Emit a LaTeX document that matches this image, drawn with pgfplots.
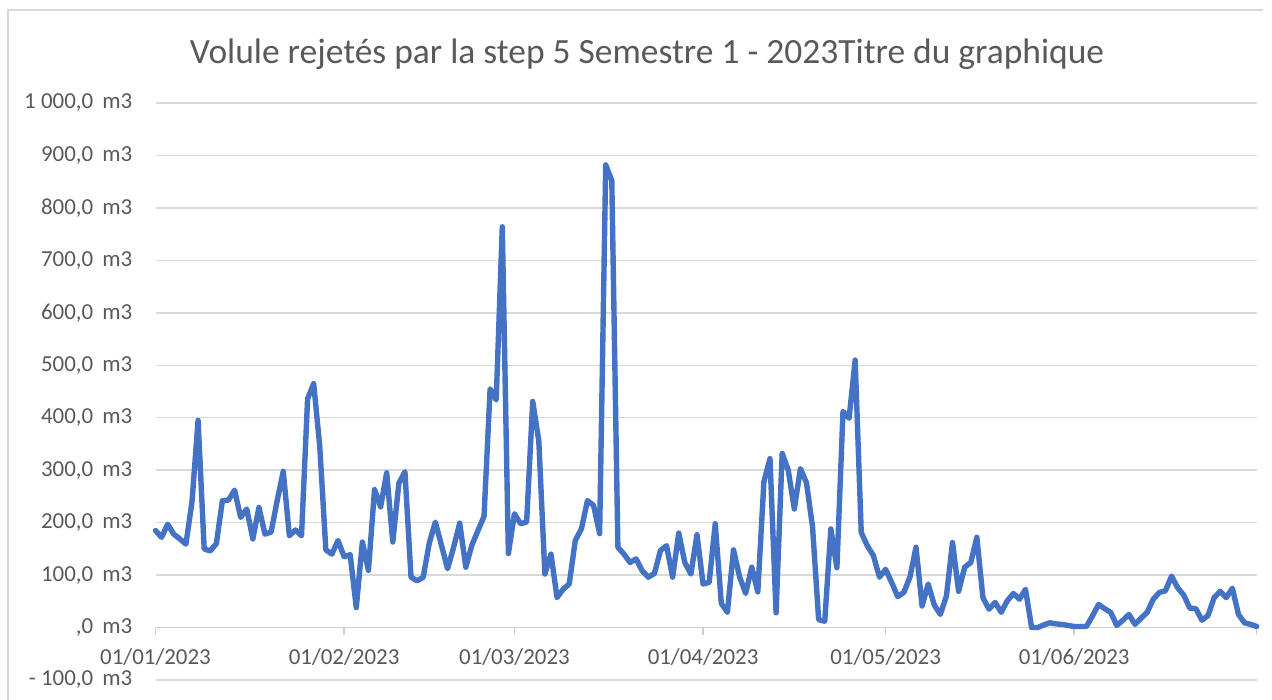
\documentclass[border=0pt]{standalone}
\usepackage{fontspec}
\setmainfont{Carlito}
\usepackage{pgfplots}
\pgfplotsset{compat=1.18}
\definecolor{lineblue}{HTML}{4472C4}
\definecolor{gridgray}{HTML}{D9D9D9}
\definecolor{txtgray}{HTML}{595959}
\definecolor{axgray}{HTML}{CFCFCF}
\begin{document}
\begin{tikzpicture}
\useasboundingbox (0,0) rectangle (636bp,350bp);
\draw[gridgray, line width=0.7bp] (4bp,0) -- (4bp,345bp) -- (631.5bp,345bp);
\node[anchor=base, text=txtgray, inner sep=0pt, font=\fontsize{17.8}{21}\selectfont] at (323.5bp,318.35bp) {Volule rejetés par la step 5 Semestre 1 - 2023Titre du graphique};
\begin{axis}[
  at={(77.75bp,10bp)}, anchor=south west,
  width=550.6bp, height=288.5bp, scale only axis,
  xmin=0, xmax=181, ymin=-100, ymax=1000,
  axis x line*=middle, axis y line*=left,
  hide obscured x ticks=false, hide obscured y ticks=false,
  y axis line style={draw=none},
  x axis line style={axgray, line width=0.75bp},
  xtick={0,31,59,90,120,151,181},
  xticklabels={01/01/2023,01/02/2023,01/03/2023,01/04/2023,01/05/2023,01/06/2023,{}},
  x tick style={axgray, line width=0.75bp},
  tick align=outside, major tick length=3.5bp,
  ytick={-100,0,100,200,300,400,500,600,700,800,900,1000},
  yticklabels={{-\ 100,0\hspace{0.4em}m3},{,0\hspace{0.4em}m3},{100,0\hspace{0.4em}m3},{200,0\hspace{0.4em}m3},{300,0\hspace{0.4em}m3},{400,0\hspace{0.4em}m3},{500,0\hspace{0.4em}m3},{600,0\hspace{0.4em}m3},{700,0\hspace{0.4em}m3},{800,0\hspace{0.4em}m3},{900,0\hspace{0.4em}m3},{1 000,0\hspace{0.4em}m3}},
  y tick style={draw=none},
  ymajorgrids, grid style={gridgray, line width=0.75bp},
  ticklabel style={font=\fontsize{11.5}{13}\selectfont, text=txtgray},
  yticklabel style={anchor=east, inner sep=0pt, xshift=-7.9bp},
  xticklabel style={anchor=base, inner sep=0pt, yshift=-15bp},
  clip=false,
]
\addplot[color=lineblue, line width=2.7bp, line join=round, line cap=round, mark=none] coordinates {
(0,185)(1,172)(2,197)(3,178)(4,169)(5,159)(6,240)(7,395)(8,150)(9,146)
(10,160)(11,242)(12,243)(13,262)(14,210)(15,226)(16,169)(17,229)(18,178)(19,182)
(20,242)(21,298)(22,175)(23,186)(24,175)(25,436)(26,465)(27,345)(28,148)(29,140)
(30,166)(31,135)(32,139)(33,38)(34,163)(35,109)(36,263)(37,230)(38,295)(39,163)
(40,275)(41,297)(42,96)(43,89)(44,96)(45,161)(46,201)(47,157)(48,112)(49,153)
(50,199)(51,115)(52,157)(53,185)(54,212)(55,455)(56,434)(57,764)(58,141)(59,217)
(60,198)(61,201)(62,431)(63,356)(64,102)(65,140)(66,57)(67,73)(68,83)(69,166)
(70,188)(71,242)(72,233)(73,179)(74,882)(75,852)(76,153)(77,140)(78,124)(79,131)
(80,108)(81,96)(82,103)(83,147)(84,156)(85,96)(86,180)(87,124)(88,102)(89,177)
(90,83)(91,86)(92,198)(93,46)(94,29)(95,148)(96,97)(97,65)(98,115)(99,68)
(100,278)(101,322)(102,28)(103,332)(104,300)(105,226)(106,303)(107,276)(108,191)(109,15)
(110,12)(111,188)(112,114)(113,412)(114,399)(115,510)(116,181)(117,156)(118,137)(119,96)
(120,111)(121,86)(122,59)(123,67)(124,96)(125,153)(126,41)(127,83)(128,43)(129,25)
(130,60)(131,162)(132,69)(133,115)(134,124)(135,172)(136,57)(137,35)(138,48)(139,29)
(140,51)(141,65)(142,54)(143,73)(144,0)(145,0)(146,5)(147,9)(148,7)(149,6)
(150,4)(151,2)(152,2)(153,2)(154,22)(155,44)(156,36)(157,29)(158,4)(159,14)
(160,25)(161,6)(162,18)(163,29)(164,54)(165,67)(166,70)(167,98)(168,76)(169,62)
(170,37)(171,36)(172,14)(173,23)(174,57)(175,69)(176,57)(177,75)(178,25)(179,9)
(180,6)(181,2)
};
\end{axis}
\end{tikzpicture}
\end{document}
